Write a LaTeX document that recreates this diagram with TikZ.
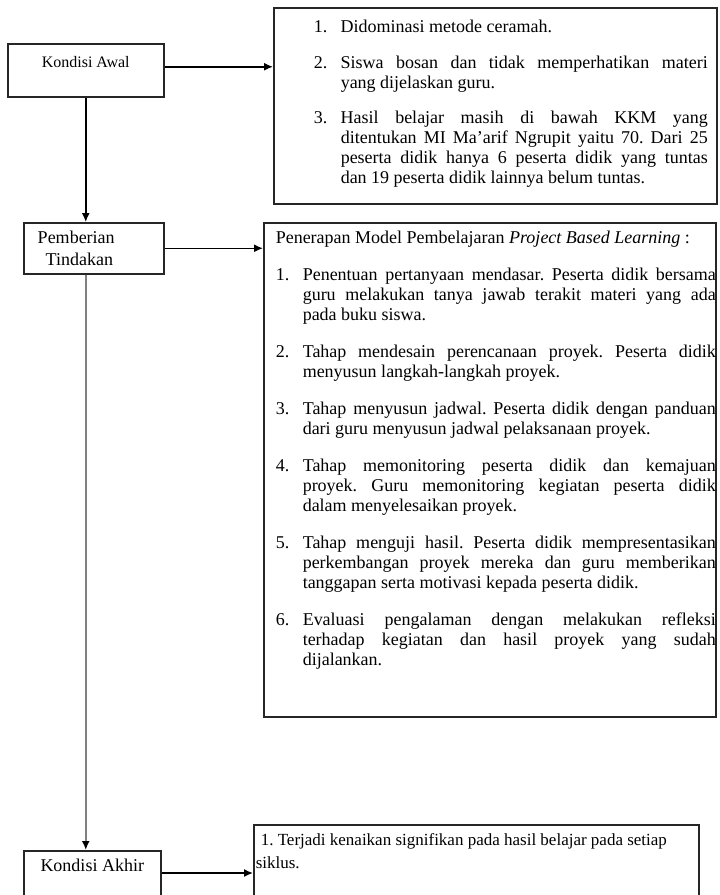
\documentclass[tikz,border=0pt]{standalone}
\usepackage{fontspec}
\setmainfont{Liberation Serif}
\usetikzlibrary{arrows.meta}

\newcommand{\butir}[2]{\hangindent=27pt\hangafter=1\noindent\makebox[27pt][l]{#1.}#2\par}
\newcommand{\aturisi}[3]{\frenchspacing\leftskip=#1\rightskip=#3\parfillskip=0pt plus 1fil\parskip=#2\tolerance=10000\hbadness=10000\hyphenpenalty=10000}

\begin{document}
\begin{tikzpicture}[x=1pt,y=-1pt,->,>={Latex[length=9pt,width=8pt]},line width=1.5pt,
  kotak/.style={draw=black!85,rectangle,inner sep=0pt,font=\fontsize{18}{20}\selectfont},
  daftar/.style={kotak,anchor=north west,text width=#1,align=justify}]
  \useasboundingbox (0,0) rectangle (720,895);
  % kolom kiri
  \node[kotak,anchor=north west,minimum width=156pt,text height=24pt,text depth=29pt,font=\fontsize{16}{20}\selectfont] (awal) at (7,43) {Kondisi Awal};
  \node[kotak,anchor=north west,text width=112pt,inner xsep=14pt,minimum height=51pt,align=left,font=\fontsize{18}{22}\selectfont] (pemberian) at (23,222) {Pemberian\\\hspace*{8pt}Tindakan};
  \node[kotak,anchor=north west,minimum width=137pt,text height=21pt,text depth=39pt] (akhir) at (23,850) {Kondisi Akhir};
  % kolom kanan
  \node[daftar=443pt] (masalah) at (273,7) {\aturisi{40pt}{15.5pt}{9pt}%
    \butir{1}{\rule{0pt}{25pt}Didominasi metode ceramah.}
    \butir{2}{Siswa bosan dan tidak memperhatikan materi \linebreak yang dijelaskan guru.}
    \butir{3}{Hasil belajar masih di bawah KKM yang \linebreak ditentukan MI Ma’arif Ngrupit yaitu 70. Dari 25 \linebreak peserta didik hanya 6 peserta didik yang tuntas \linebreak dan 19 peserta didik lainnya belum tuntas.\rule[-20pt]{0pt}{20pt}}};
  \node[daftar=452pt] (tindakan) at (263,222) {\aturisi{12pt}{17pt}{0pt}%
    \noindent\rule{0pt}{21pt}Penerapan Model Pembelajaran \textit{Project Based Learning} :\par
    \butir{1}{Penentuan pertanyaan mendasar. Peserta didik bersama \linebreak guru melakukan tanya jawab terakit materi yang ada \linebreak pada buku siswa.}
    \butir{2}{Tahap mendesain perencanaan proyek. Peserta didik \linebreak menyusun langkah-langkah proyek.}
    \butir{3}{Tahap menyusun jadwal. Peserta didik dengan panduan \linebreak dari guru menyusun jadwal pelaksanaan proyek.}
    \butir{4}{Tahap memonitoring peserta didik dan kemajuan \linebreak proyek. Guru memonitoring kegiatan peserta didik \linebreak dalam menyelesaikan proyek.}
    \butir{5}{Tahap menguji hasil. Peserta didik mempresentasikan \linebreak perkembangan proyek mereka dan guru memberikan \linebreak tanggapan serta motivasi kepada peserta didik.}
    \butir{6}{Evaluasi pengalaman dengan melakukan refleksi \linebreak terhadap kegiatan dan hasil proyek yang sudah \linebreak dijalankan.\rule[-51pt]{0pt}{51pt}}};
  \node[daftar=441pt,inner xsep=2pt,font=\fontsize{17}{23}\selectfont] (hasil) at (253,824) {\raggedright\frenchspacing
    \rule{0pt}{21pt}\hspace*{5pt}1. Terjadi kenaikan signifikan pada hasil belajar pada setiap\\siklus.\rule[-60pt]{0pt}{60pt}\par};
  % panah
  \draw ([yshift=3.5pt]awal.east) -- ([yshift=3.5pt]awal.east -| masalah.west);
  \draw (awal.south) -- (awal.south |- pemberian.north);
  \draw (pemberian.east) -- (pemberian.east -| tindakan.west);
  \draw[gray,line width=2.2pt,-{Latex[length=9pt,width=8pt,black]}] (awal.south |- pemberian.south) -- (awal.south |- akhir.north);
  \draw ([yshift=-23pt]akhir.north east) -- ([yshift=-23pt]akhir.north east -| hasil.west);
\end{tikzpicture}
\end{document}
